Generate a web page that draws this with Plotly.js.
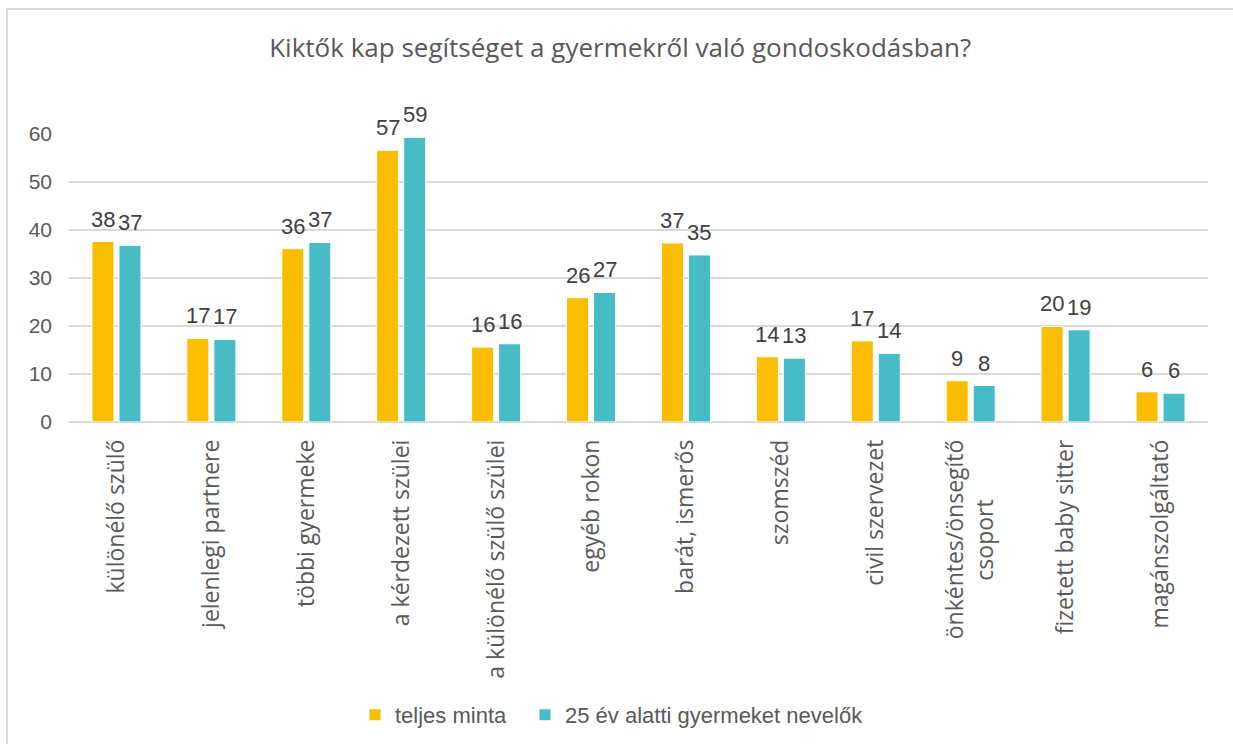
<!DOCTYPE html>
<html>
<head>
<meta charset="utf-8">
<script src="https://cdn.plot.ly/plotly-3.0.1.min.js"></script>
<style>
html,body{margin:0;padding:0;background:#fff;overflow:hidden;}
#chart{width:1233px;height:744px;}
#frame{position:absolute;left:6px;top:8px;width:1240px;height:760px;border:2px solid #d9d9d9;pointer-events:none;box-sizing:border-box;}
</style>
</head>
<body>
<div id="chart"></div>
<div id="frame"></div>
<script>
const categories = ["különélő szülő","jelenlegi partnere","többi gyermeke","a kérdezett szülei","a különélő szülő szülei","egyéb rokon","barát, ismerős","szomszéd","civil szervezet","önkéntes/önsegítő<br>csoport\u00A0\u00A0\u00A0\u00A0\u00A0\u00A0\u00A0\u00A0\u00A0\u00A0\u200B","fizetett baby sitter","magánszolgáltató"];
const seriesNames = ["teljes minta","25 év alatti gyermeket nevelők"];
const teljesMinta = [37.6, 17.4, 36.1, 56.6, 15.6, 25.9, 37.3, 13.6, 16.9, 8.6, 19.9, 6.3];
const alatti25 = [36.8, 17.2, 37.4, 59.3, 16.3, 27.0, 34.8, 13.3, 14.3, 7.6, 19.2, 6.0];
const yTicks = [0,10,20,30,40,50,60];

const colors = ["#FABD00", "#47BCC6"];
const allSeries = [teljesMinta, alatti25];
const legendIds = ["legend", "legend2"];

const traces = allSeries.map((vals, k) => ({
  type: "bar",
  name: seriesNames[k],
  x: categories,
  y: vals,
  legend: legendIds[k],
  marker: {color: colors[k], line: {color: "#ffffff", width: 1}},
  hoverinfo: "none"
}));

const annotations = [];
allSeries.forEach((vals, k) => {
  vals.forEach((v, i) => {
    annotations.push({
      x: categories[i], y: v, xref: "x", yref: "y",
      text: v.toFixed(0), showarrow: false,
      xshift: k === 0 ? -13.5 : 13.5, yshift: 8,
      yanchor: "bottom",
      font: {family: "Liberation Sans, Arial, sans-serif", size: 22, color: "#404040"}
    });
  });
});

const legendBase = {
  orientation: "h",
  xanchor: "left", xref: "container",
  y: 1 - 715/744, yanchor: "middle", yref: "container",
  font: {family: "Liberation Sans, Arial, sans-serif", size: 22, color: "#595959"},
  itemwidth: 30,
  bgcolor: "rgba(0,0,0,0)"
};

const layout = {
  width: 1233, height: 744,
  margin: {l: 69, r: 25, t: 134, b: 322},
  paper_bgcolor: "rgba(0,0,0,0)",
  plot_bgcolor: "#ffffff",
  barmode: "group",
  bargap: 0.431,
  bargroupgap: 0.185,
  title: {
    text: "Kiktők kap segítséget a gyermekről való gondoskodásban?",
    x: 0.503, xanchor: "center", y: 1 - 48/744, yanchor: "middle", yref: "container",
    font: {family: "Open Sans, sans-serif", size: 26, color: "#595959"}
  },
  xaxis: {
    type: "category",
    tickangle: -90,
    tickfont: {family: "Open Sans, sans-serif", size: 23, color: "#595959"},
    showgrid: false, showline: false, zeroline: false,
    ticks: "", ticklabelstandoff: 12
  },
  yaxis: {
    range: [0, 60],
    tickvals: yTicks,
    ticktext: yTicks.map(String),
    showgrid: true, gridcolor: "#d9d9d9", gridwidth: 1.5,
    zeroline: true, zerolinecolor: "#d9d9d9", zerolinewidth: 1.5,
    showline: false, ticks: "",
    tickfont: {family: "Liberation Sans, Arial, sans-serif", size: 21, color: "#595959"},
    ticklabelstandoff: 16
  },
  legend: Object.assign({}, legendBase, {x: 355/1233}),
  legend2: Object.assign({}, legendBase, {x: 525/1233}),
  annotations: annotations,
  showlegend: true
};

Plotly.newPlot("chart", traces, layout, {displayModeBar: false, staticPlot: true});
</script>
</body>
</html>
